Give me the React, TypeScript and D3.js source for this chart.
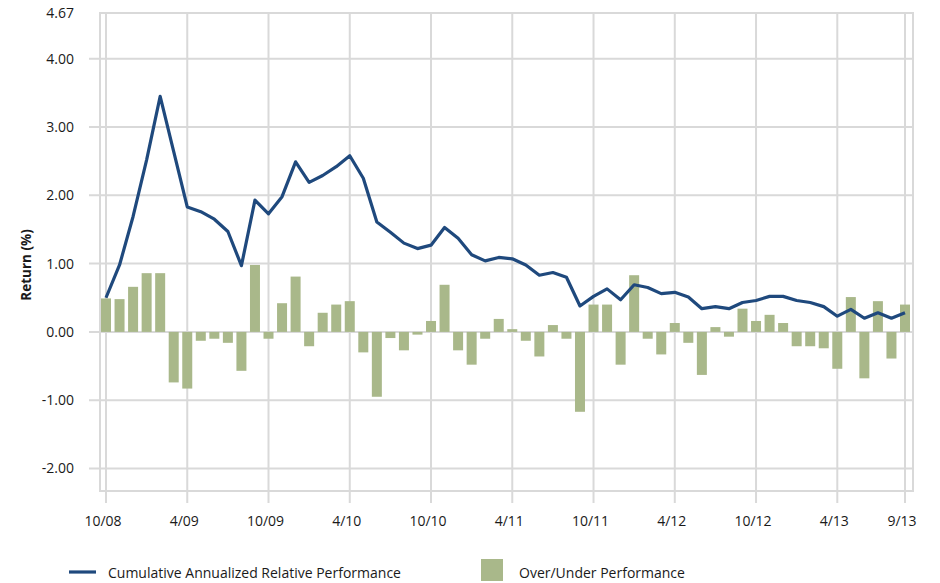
import React from "react";
import * as d3 from "d3";

// month index 0 = 10/08 ... 59 = 9/13
const tickLabels = ["10/08", "4/09", "10/09", "4/10", "10/10", "4/11", "10/11", "4/12", "10/12", "4/13", "9/13"];
const tickIndex = [0, 6, 12, 18, 24, 30, 36, 42, 48, 54, 59];

const cumulative = [
  0.50, 0.98, 1.69, 2.52, 3.45, 2.64, 1.83, 1.76, 1.65, 1.47,
  0.97, 1.93, 1.73, 1.98, 2.49, 2.19, 2.29, 2.42, 2.58, 2.25,
  1.61, 1.46, 1.30, 1.22, 1.27, 1.53, 1.37, 1.13, 1.04, 1.09,
  1.07, 0.98, 0.83, 0.87, 0.80, 0.38, 0.52, 0.63, 0.47, 0.69,
  0.65, 0.56, 0.58, 0.51, 0.34, 0.37, 0.34, 0.43, 0.46, 0.52,
  0.52, 0.46, 0.43, 0.37, 0.23, 0.33, 0.20, 0.28, 0.20, 0.28,
];

const overUnder = [
  0.49, 0.48, 0.66, 0.86, 0.86, -0.74, -0.83, -0.13, -0.10, -0.16,
  -0.57, 0.98, -0.10, 0.42, 0.81, -0.21, 0.28, 0.40, 0.45, -0.30,
  -0.95, -0.09, -0.27, -0.04, 0.16, 0.69, -0.27, -0.48, -0.10, 0.19,
  0.04, -0.13, -0.36, 0.10, -0.10, -1.17, 0.40, 0.40, -0.48, 0.83,
  -0.10, -0.33, 0.13, -0.16, -0.63, 0.07, -0.07, 0.34, 0.16, 0.25,
  0.13, -0.21, -0.21, -0.24, -0.54, 0.51, -0.68, 0.45, -0.39, 0.40,
];

const yTicks = [4, 3, 2, 1, 0, -1, -2];
const yTop = 4.67;
const yBottom = -2.33;

const LINE_COLOR = "#1f497d";
const BAR_COLOR = "#a9b88a";
const GRID = "#d9d9d9";
const FONT = "'Open Sans', sans-serif";

export default function App() {
  const left = 100, right = 913, top = 13, bottom = 491;
  const x = d3.scaleLinear().domain([0, 59]).range([106, 905]);
  const y = d3.scaleLinear().domain([yBottom, yTop]).range([bottom, top]);
  const barW = 10;

  const line = d3
    .line<number>()
    .x((d, i) => x(i))
    .y((d) => y(d));

  return (
    <svg width={940} height={583} style={{ position: "absolute", left: 0, top: 0, background: "#fff" }}>
      {/* horizontal grid */}
      {yTicks.map((t) => (
        <line key={"h" + t} x1={89} x2={right} y1={y(t)} y2={y(t)} stroke={GRID} strokeWidth={2} />
      ))}
      {/* vertical grid + ticks */}
      {tickIndex.map((ti) => (
        <line key={"v" + ti} x1={x(ti)} x2={x(ti)} y1={top} y2={bottom + 12} stroke={GRID} strokeWidth={2} />
      ))}
      <rect x={left} y={top} width={right - left} height={bottom - top} fill="none" stroke={GRID} strokeWidth={2} />

      {/* bars */}
      {overUnder.map((v, i) => (
        <rect
          key={"b" + i}
          x={x(i) - barW / 2}
          y={Math.min(y(v), y(0))}
          width={barW}
          height={Math.abs(y(v) - y(0))}
          fill={BAR_COLOR}
        />
      ))}

      <path d={line(cumulative) || ""} fill="none" stroke={LINE_COLOR} strokeWidth={3.2} strokeLinejoin="round" />

      {/* y labels */}
      <text x={74} y={y(yTop)} dy="0.35em" textAnchor="end" fontFamily={FONT} fontSize={14} fill="#1a1a1a">
        {yTop.toFixed(2)}
      </text>
      {yTicks.map((t) => (
        <text key={"yl" + t} x={74} y={y(t)} dy="0.35em" textAnchor="end" fontFamily={FONT} fontSize={14} fill="#1a1a1a">
          {t.toFixed(2)}
        </text>
      ))}
      <text
        transform="translate(31,265) rotate(-90)"
        textAnchor="middle"
        fontFamily={FONT}
        fontSize={13.5}
        fontWeight="bold"
        fill="#1a1a1a"
      >
        Return (%)
      </text>

      {/* x labels */}
      {tickIndex.map((ti, k) => (
        <text key={"xl" + ti} x={x(ti) - 3} y={526} textAnchor="middle" fontFamily={FONT} fontSize={14} fill="#1a1a1a">
          {tickLabels[k]}
        </text>
      ))}

      {/* legend */}
      <line x1={69} x2={96} y1={572} y2={572} stroke={LINE_COLOR} strokeWidth={3.2} />
      <text x={108} y={578} fontFamily={FONT} fontSize={14} fill="#1a1a1a">
        Cumulative Annualized Relative Performance
      </text>
      <rect x={481} y={559} width={22} height={22} fill={BAR_COLOR} />
      <text x={519} y={578} fontFamily={FONT} fontSize={14} fill="#1a1a1a">
        Over/Under Performance
      </text>
    </svg>
  );
}
